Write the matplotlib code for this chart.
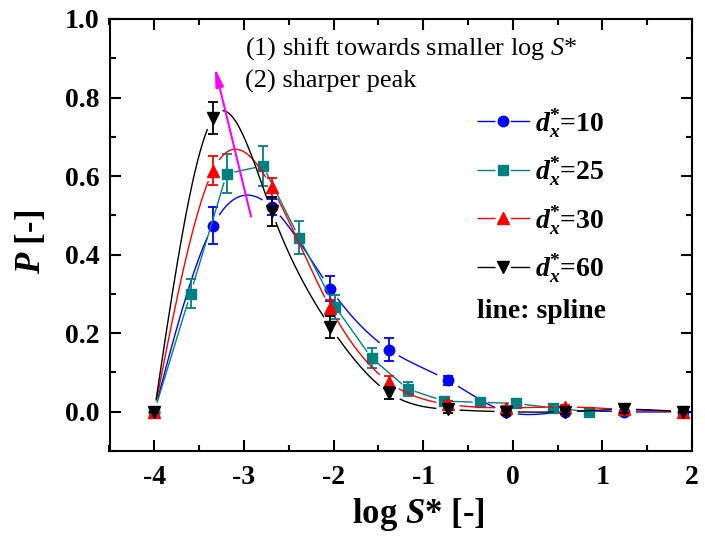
import numpy as np
import matplotlib
matplotlib.use('Agg')
import matplotlib.pyplot as plt
from matplotlib.lines import Line2D
from matplotlib.ticker import MultipleLocator

plt.rcParams['font.family'] = 'Liberation Serif'
plt.rcParams['font.weight'] = 'bold'
plt.rcParams['mathtext.fontset'] = 'custom'
plt.rcParams['mathtext.rm'] = 'Liberation Serif:normal'
plt.rcParams['mathtext.it'] = 'Liberation Serif:italic:normal'
plt.rcParams['mathtext.bf'] = 'Liberation Serif:bold'
plt.rcParams['mathtext.bfit'] = 'Liberation Serif:italic:bold'
plt.rcParams['axes.unicode_minus'] = False

# log S* bins (d*x = 10, 30, 60 share one grid, d*x = 25 has a finer one)
x_main = [-4.0, -3.345, -2.69, -2.035, -1.38, -0.725, -0.07, 0.585, 1.24, 1.895]
x_25 = [-4.0, -3.596, -3.192, -2.788, -2.384, -1.98, -1.576, -1.172,
        -0.768, -0.364, 0.04, 0.444, 0.848]

p_10 = [0.0, 0.474, 0.521, 0.313, 0.158, 0.080, 0.0, 0.0, 0.0, 0.0]
e_10 = [0.0, 0.048, 0.02, 0.032, 0.029, 0.012, 0.004, 0.003, 0.003, 0.0]

p_25 = [0.0, 0.301, 0.606, 0.626, 0.443, 0.267, 0.137, 0.058, 0.027,
        0.024, 0.021, 0.010, 0.0]
e_25 = [0.0, 0.036, 0.05, 0.05, 0.042, 0.03, 0.025, 0.018, 0.006,
        0.005, 0.005, 0.004, 0.003]

p_30 = [0.0, 0.614, 0.571, 0.264, 0.075, 0.019, 0.010, 0.012, 0.006, 0.0]
e_30 = [0.0, 0.036, 0.025, 0.02, 0.015, 0.008, 0.005, 0.005, 0.005, 0.0]

p_60 = [0.0, 0.748, 0.510, 0.216, 0.048, 0.006, 0.0, 0.0, 0.006, 0.0]
e_60 = [0.0, 0.041, 0.038, 0.027, 0.015, 0.01, 0.008, 0.005, 0.008, 0.0]

labels = ['10', '25', '30', '60']


def natural_spline(x, y, n=600):
    x = np.asarray(x, float)
    y = np.asarray(y, float)
    k = len(x)
    h = np.diff(x)
    A = np.zeros((k, k))
    b = np.zeros(k)
    A[0, 0] = A[-1, -1] = 1
    for i in range(1, k - 1):
        A[i, i - 1] = h[i - 1]
        A[i, i] = 2 * (h[i - 1] + h[i])
        A[i, i + 1] = h[i]
        b[i] = 3 * ((y[i + 1] - y[i]) / h[i] - (y[i] - y[i - 1]) / h[i - 1])
    c = np.linalg.solve(A, b)
    xs = np.linspace(x[0], x[-1], n)
    idx = np.clip(np.searchsorted(x, xs) - 1, 0, k - 2)
    dx = xs - x[idx]
    bb = (y[idx + 1] - y[idx]) / h[idx] - h[idx] * (2 * c[idx] + c[idx + 1]) / 3
    d = (c[idx + 1] - c[idx]) / (3 * h[idx])
    return xs, y[idx] + bb * dx + c[idx] * dx ** 2 + d * dx ** 3


def polyline(x, y, n=600):
    xs = np.linspace(x[0], x[-1], n)
    return xs, np.interp(xs, x, y)


fig = plt.figure(figsize=(7.05, 5.36), dpi=100)
ax = fig.add_axes([109.5 / 705, 85 / 536, 582.5 / 705, 432 / 536])
ax.set_xlim(-4.5, 2.0)
ax.set_ylim(-0.1, 1.0)

series = [
    (x_main, p_10, e_10, '#0000ff', 'o', 7.5, 12, natural_spline),
    (x_25, p_25, e_25, '#008080', 's', 6.5, 8, polyline),
    (x_main, p_30, e_30, '#ff0000', '^', 8.5, 12, natural_spline),
    (x_main, p_60, e_60, '#000000', 'v', 8.5, 12, natural_spline),
]

handles = []
for i, (xv, pv, ev, col, mk, ms, gap, curve) in enumerate(series):
    xs, ys = curve(xv, pv)
    # leave a small gap in the line around each of its own symbols
    disp = ax.transData.transform(np.column_stack([xs, ys]))
    pts = ax.transData.transform(np.column_stack([xv, pv]))
    dist = np.min(np.hypot(disp[:, None, 0] - pts[None, :, 0],
                           disp[:, None, 1] - pts[None, :, 1]), axis=1)
    ys = np.where(dist < gap, np.nan, ys)
    ax.plot(xs, ys, color=col, lw=1.0, zorder=2 + i)
    ax.errorbar(xv, pv, yerr=ev, fmt='none', ecolor=col, elinewidth=1.3,
                capsize=3.8, capthick=1.3, zorder=2.5 + i)
    ax.plot(xv, pv, ls='none', marker=mk, ms=ms, color=col, mec=col,
            zorder=2.6 + i)
    handles.append(Line2D([], [], color=col, lw=1.0, marker=mk, ms=ms,
                          ls=(0, (13, 11, 14, 100))))

leg = ax.legend(handles,
                [r'$\mathbfit{d}_{\mathbfit{x}}^{\mathbf{*}}$=' + s for s in labels],
                loc='upper left', bbox_to_anchor=(0.631, 0.797), frameon=False,
                fontsize=20, handlelength=1.9, handletextpad=0.2,
                labelspacing=0.56, borderpad=0, borderaxespad=0)

ax.text(0.631, 0.322, 'line: spline', transform=ax.transAxes, fontsize=20,
        fontweight='bold', ha='left', va='center')

ax.text(0.2326, 0.932, r'(1) shift towards smaller log $S$*',
        transform=ax.transAxes, fontsize=19, fontweight='normal',
        ha='left', va='center')
ax.text(0.2326, 0.855, '(2) sharper peak', transform=ax.transAxes,
        fontsize=19, fontweight='normal', ha='left', va='center')

ax.annotate('', xy=(-3.323, 0.875), xytext=(-2.921, 0.497),
            arrowprops=dict(arrowstyle='-|>,head_length=0.9,head_width=0.2',
                            color='magenta', lw=1.5, mutation_scale=12,
                            shrinkA=0, shrinkB=0), zorder=10)

ax.xaxis.set_major_locator(MultipleLocator(1))
ax.xaxis.set_minor_locator(MultipleLocator(0.5))
ax.yaxis.set_major_locator(MultipleLocator(0.2))
ax.yaxis.set_minor_locator(MultipleLocator(0.1))
ax.set_yticks([0.0, 0.2, 0.4, 0.6, 0.8, 1.0])
ax.set_yticklabels(['0.0', '0.2', '0.4', '0.6', '0.8', '1.0'])
ax.tick_params(which='both', direction='in', top=True, right=True, width=1.5,
               labelsize=20)
ax.tick_params(which='major', length=8)
ax.tick_params(which='minor', length=4.5)
ax.tick_params(axis='x', pad=10)
ax.tick_params(axis='y', pad=7)
for sp in ax.spines.values():
    sp.set_linewidth(1.5)

ax.set_xlabel(r'log $\mathbfit{S}$* [-]', fontsize=25, fontweight='bold')
ax.xaxis.label.set_va('baseline')
ax.xaxis.set_label_coords(0.53, -0.1667)
ax.set_ylabel(r'$\mathbfit{P}$ [-]', fontsize=25, fontweight='bold')
ax.yaxis.set_label_coords(-0.1056, 0.485)

fig.savefig('out.png', dpi=100)
